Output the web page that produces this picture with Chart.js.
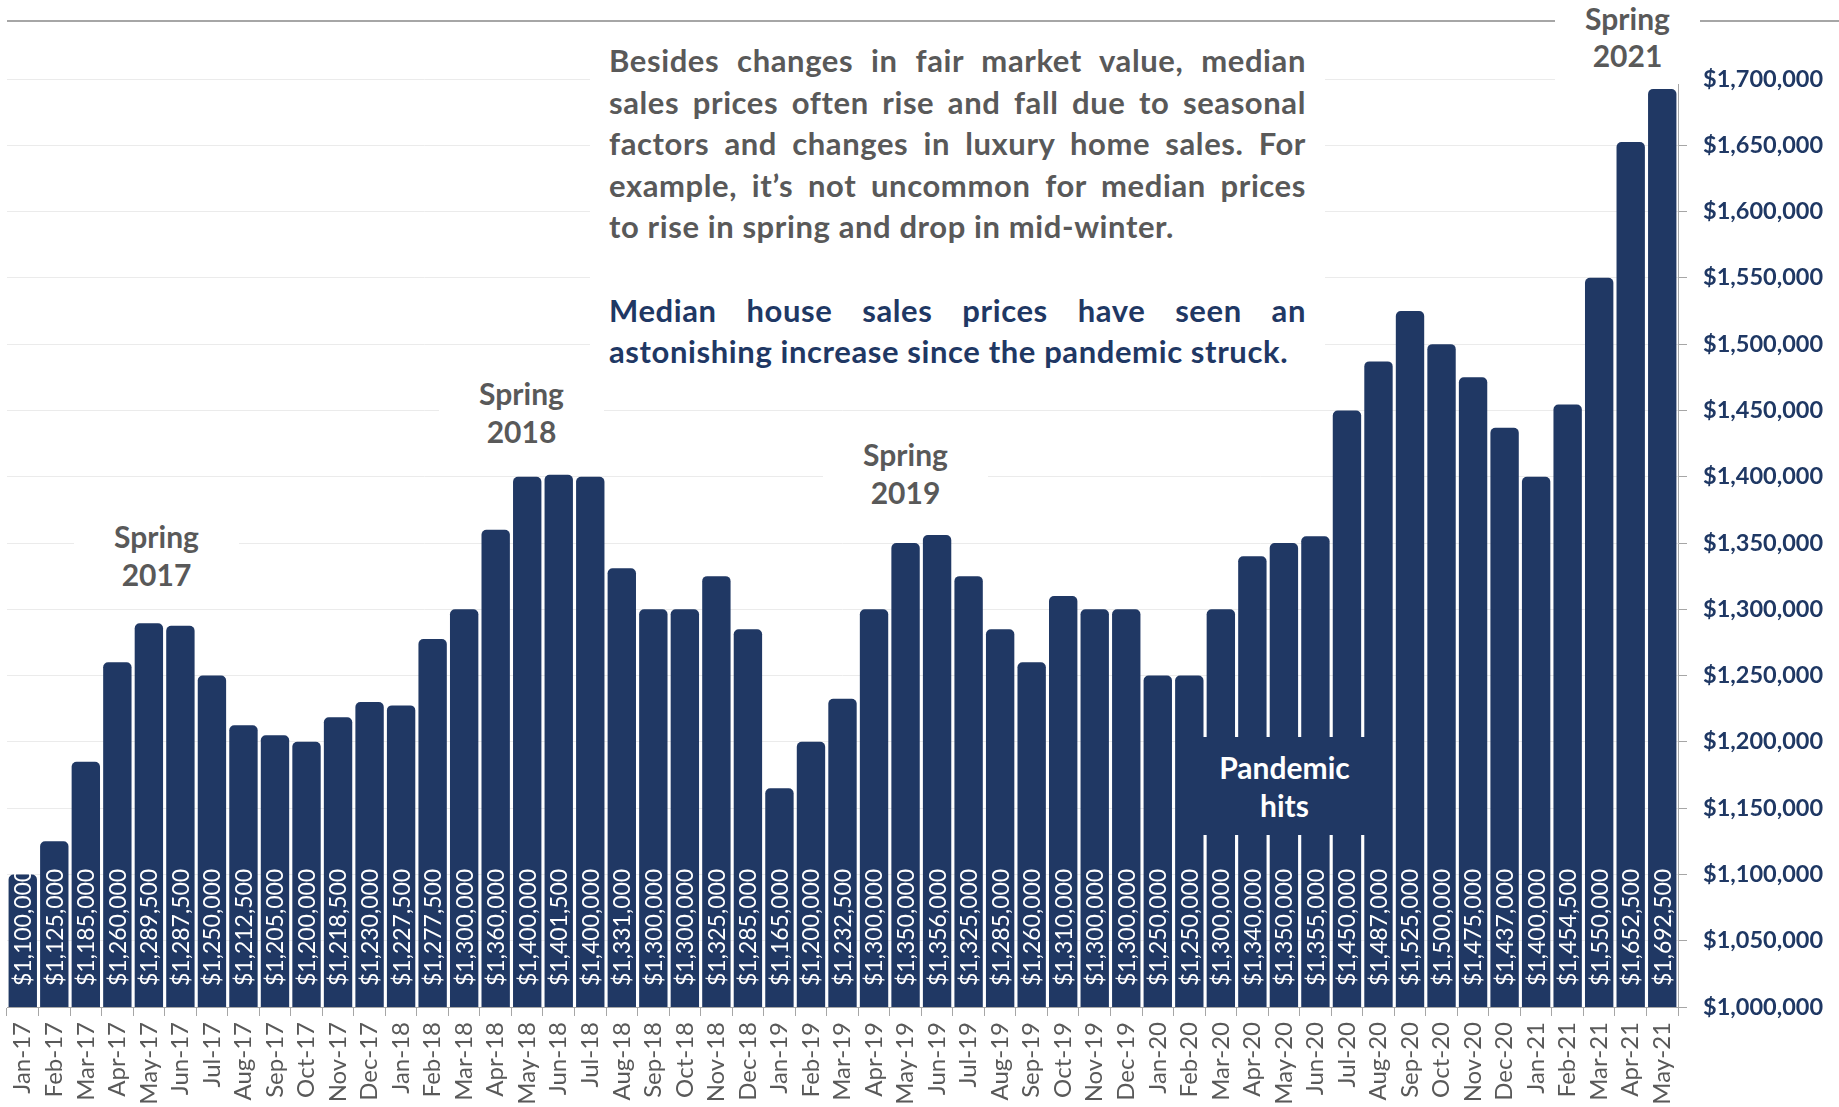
<!DOCTYPE html>
<html>
<head>
<meta charset="utf-8">
<script src="https://cdn.jsdelivr.net/npm/chart.js@4.4.0/dist/chart.umd.min.js"></script>
<style>
  body { margin: 0; background: #fff; }
  #wrap { position: relative; width: 1839px; height: 1107px; overflow: hidden; font-family: 'Lato', sans-serif; }
  canvas { position: absolute; left: 0; top: 0; }
  .topline { position: absolute; left: 7px; right: 0; top: 20px; height: 2px; background: #A6A6A6; }
  .note { position: absolute; background: #fff; color: #595959; font-weight: bold; font-size: 30px; line-height: 38px; text-align: center; box-sizing: border-box; }
  .texto { position: absolute; left: 590px; top: 35px; width: 735px; height: 345px; background: #fff;
           box-sizing: border-box; padding: 5px 19px 0 19px; font-weight: bold; font-size: 31px; letter-spacing: 0.6px; line-height: 41.6px; color: #595959; }
  .texto div { white-space: nowrap; text-align: justify; text-align-last: justify; }
  .texto div.fim { text-align: left; text-align-last: left; }
  .texto .azul { color: #1F3864; }
  .pandemia { position: absolute; left: 1177px; top: 737px; width: 215px; height: 98px; background: #203864;
              color: #fff; font-weight: bold; font-size: 30px; line-height: 38px; text-align: center; box-sizing: border-box; padding-top: 11px; }
</style>
</head>
<body>
<div id="wrap">
  <canvas id="grafico" width="1839" height="1107"></canvas>
  <div class="topline"></div>
  <div class="note" style="left:74px; top:508px; width:165px; height:95px; padding-top:9px;">Spring<br>2017</div>
  <div class="note" style="left:439px; top:370px; width:165px; height:88px; padding-top:4px;">Spring<br>2018</div>
  <div class="note" style="left:823px; top:426px; width:165px; height:88px; padding-top:9px;">Spring<br>2019</div>
  <div class="note" style="left:1555px; top:0px; width:145px; height:84px; padding-top:0px; line-height:37px;">Spring<br>2021</div>
  <div class="texto">
    <div>Besides changes in fair market value, median</div>
    <div>sales prices often rise and fall due to seasonal</div>
    <div>factors and changes in luxury home sales. For</div>
    <div>example, it’s not uncommon for median prices</div>
    <div class="fim">to rise in spring and drop in mid-winter.</div>
    <div class="fim">&nbsp;</div>
    <div class="azul">Median house sales prices have seen an</div>
    <div class="azul fim">astonishing increase since the pandemic struck.</div>
  </div>
  <div class="pandemia">Pandemic<br>hits</div>
</div>
<script>
// meses (eixo x)
const meses = [
  'Jan-17','Feb-17','Mar-17','Apr-17','May-17','Jun-17','Jul-17','Aug-17','Sep-17','Oct-17','Nov-17','Dec-17',
  'Jan-18','Feb-18','Mar-18','Apr-18','May-18','Jun-18','Jul-18','Aug-18','Sep-18','Oct-18','Nov-18','Dec-18',
  'Jan-19','Feb-19','Mar-19','Apr-19','May-19','Jun-19','Jul-19','Aug-19','Sep-19','Oct-19','Nov-19','Dec-19',
  'Jan-20','Feb-20','Mar-20','Apr-20','May-20','Jun-20','Jul-20','Aug-20','Sep-20','Oct-20','Nov-20','Dec-20',
  'Jan-21','Feb-21','Mar-21','Apr-21','May-21'
];

// preço mediano de venda (US$)
const precos = [
  1100000, 1125000, 1185000, 1260000, 1289500, 1287500, 1250000, 1212500, 1205000, 1200000, 1218500, 1230000,
  1227500, 1277500, 1300000, 1360000, 1400000, 1401500, 1400000, 1331000, 1300000, 1300000, 1325000, 1285000,
  1165000, 1200000, 1232500, 1300000, 1350000, 1356000, 1325000, 1285000, 1260000, 1310000, 1300000, 1300000,
  1250000, 1250000, 1300000, 1340000, 1350000, 1355000, 1450000, 1487000, 1525000, 1500000, 1475000, 1437000,
  1400000, 1454500, 1550000, 1652500, 1692500
];

// eixo y
const yMin = 1000000;
const yMax = 1700000;
const yPasso = 50000;

function dinheiro(v) {
  return '$' + Math.round(v).toString().replace(/\B(?=(\d{3})+(?!\d))/g, ',');
}

// rótulos brancos dentro das barras, girados
const rotulosBarras = {
  id: 'rotulosBarras',
  afterDraw(chart) {
    const c = chart.ctx;
    const sx = chart.scales.x;
    const sy = chart.scales.y;
    const base = sy.getPixelForValue(yMin);
    c.save();
    c.fillStyle = '#ffffff';
    c.font = '23px Lato, sans-serif';
    c.textAlign = 'left';
    c.textBaseline = 'middle';
    for (let i = 0; i < precos.length; i++) {
      c.save();
      c.translate(sx.getPixelForValue(i) + 1, base - 21);
      c.rotate(-Math.PI / 2);
      c.fillText(dinheiro(precos[i]), 0, 0);
      c.restore();
    }
    c.restore();
  }
};

var ctxG = document.getElementById('grafico').getContext('2d');

var grafico = new Chart(ctxG, {
  type: 'bar',
  data: {
    labels: meses,
    datasets: [{
      data: precos,
      backgroundColor: '#203864',
      barPercentage: 0.9,
      categoryPercentage: 1.0,
      borderRadius: 5,
      borderSkipped: 'start'
    }]
  },
  options: {
    responsive: false,
    animation: false,
    layout: { padding: { top: 79, left: 7, right: 0, bottom: 0 } },
    plugins: {
      legend: { display: false },
      tooltip: { enabled: false }
    },
    scales: {
      x: {
        offset: true,
        grid: { drawOnChartArea: false, color: '#A6A6A6', tickLength: 9, offset: true },
        border: { color: '#A6A6A6', width: 1 },
        ticks: {
          color: '#595959',
          font: { family: 'Lato', size: 24 },
          minRotation: 90,
          maxRotation: 90,
          padding: 6,
          autoSkip: false
        },
        afterFit: function(scale) { scale.height = 100; }
      },
      y: {
        position: 'right',
        min: yMin,
        max: yMax,
        grid: { color: '#EBEBEB', tickColor: '#A6A6A6', tickLength: 9 },
        border: { color: '#A6A6A6', width: 1 },
        ticks: {
          stepSize: yPasso,
          color: '#1F3864',
          font: { family: 'Lato', size: 23.5, weight: 'bold' },
          padding: 16,
          callback: function(v) { return dinheiro(v); }
        },
        afterFit: function(scale) { scale.width = 161; }
      }
    }
  },
  plugins: [rotulosBarras]
});
</script>
</body>
</html>
